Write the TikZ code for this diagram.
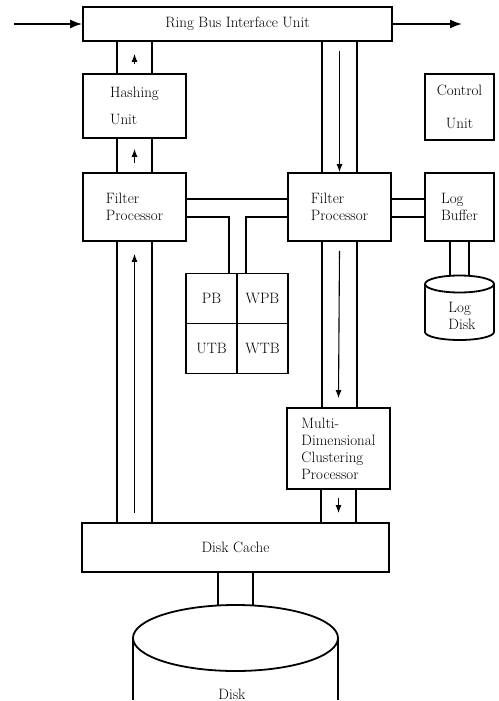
\documentclass[tikz,border=0pt]{standalone}
\usetikzlibrary{positioning,arrows.meta,shapes.geometric}

% two parallel lines of a data path: x from #2, y end from #3
\newcommand{\chan}[3][17.5pt]{%
  \draw ([xshift=-#1]#2) -- ([xshift=-#1]#2 |- #3);
  \draw ([xshift=#1]#2) -- ([xshift=#1]#2 |- #3);
}

\begin{document}
\begin{tikzpicture}[x=1pt,y=1pt,line width=1.8pt,
    every node/.style={font=\fontsize{15}{17}\selectfont},
    unit/.style={draw,inner sep=0pt,align=left},
    cell/.style={draw,inner sep=0pt,outer sep=0pt,minimum width=51pt,minimum height=50pt},
    platter/.style={ellipse,draw,inner sep=0pt,outer sep=0pt},
    flow/.style={-{Latex[length=8pt,width=6pt]},line width=1.1pt},
    bus/.style={-{Latex[length=12pt,width=9pt]}}]
    \useasboundingbox (0,0) rectangle (498,-701);

    \node[unit,minimum width=309pt,minimum height=34pt] (ring) at (237.5,-24) {Ring Bus Interface Unit};
    \node[unit,minimum width=103pt,minimum height=64pt] (hash) at (134.5,-106) {Hashing\\[10pt]Unit};
    \node[unit,minimum width=103pt,minimum height=68pt] (fpl) at (134.5,-207) {Filter\\Processor};
    \node[unit,minimum width=103pt,minimum height=68pt] (fpr) at (339.5,-207) {Filter\\Processor};
    \node[unit,align=center,minimum width=69pt,minimum height=66pt] (ctrl) at (459.5,-107) {Control\\[16pt]Unit};
    \node[unit,minimum width=69pt,minimum height=68pt] (logbuf) at (459.5,-207) {Log\\Buffer};
    \node[unit,minimum width=103pt,minimum height=81pt] (mdc) at (338.5,-448.5) {Multi-\\Dimensional\\Clustering\\Processor};
    \node[unit,minimum width=307pt,minimum height=49pt] (cache) at (235.5,-547.5) {Disk Cache};

    % buffers
    \node[cell] (pb) at (211.5,-298.5) {PB};
    \node[cell,right=0pt of pb] (wpb) {WPB};
    \node[cell,below=0pt of pb] (utb) {UTB};
    \node[cell,below=0pt of wpb] (wtb) {WTB};

    % log disk
    \node[platter,minimum width=69pt,minimum height=17pt] (ldisk) at (459.5,-284) {};
    \draw (ldisk.west) -- ++(0,-48) arc[start angle=180,end angle=360,x radius=34.5pt,y radius=8pt] -- (ldisk.east);
    \node[align=left] (ldisklabel) at (462,-316) {Log\\Disk};

    % disk
    \node[platter,minimum width=205pt,minimum height=66pt] (disk) at (235.5,-638) {};
    \draw (disk.west) -- ++(0,-62);
    \draw (disk.east) -- ++(0,-62);
    \node (disklabel) at (232,-694) {Disk};

    % ring bus
    \coordinate (busin) at (14,-24);
    \coordinate (busout) at (462,-24);
    \draw[bus] (busin) -- (ring.west);
    \draw[bus] (ring.east) -- (busout);

    % data paths
    \chan{hash.north}{ring.south}
    \chan{fpl.north}{hash.south}
    \chan{fpr.north}{ring.south}
    \chan{fpl.south}{cache.north}
    \chan{fpr.south}{mdc.north}
    \chan{mdc.south}{cache.north}
    \chan{disk.north}{cache.south}
    \chan[9.5pt]{ldisk.north}{logbuf.south}

    \draw[flow] ([yshift=9pt]hash.north) -- ([yshift=-12pt]hash.north |- ring.south);
    \draw[flow] ([yshift=9pt]fpl.north) -- ([yshift=-10pt]fpl.north |- hash.south);
    \draw[flow] ([yshift=-9pt]fpr.north |- ring.south) -- (fpr.north);
    \draw[flow] ([yshift=9pt]fpl.south |- cache.north) -- ([yshift=-12pt]fpl.south);
    \draw[flow] ([yshift=-9pt]fpr.south) -- ([yshift=9pt]mdc.north);
    \draw[flow] ([yshift=-8pt]mdc.south) -- ([yshift=9pt]mdc.south |- cache.north);

    % links to buffers and log
    \draw ([yshift=8pt]fpl.east) -- ([yshift=8pt]fpr.west);
    \draw ([yshift=-10pt]fpl.east) -| ([xshift=-8pt]pb.north east);
    \draw ([yshift=-10pt]fpr.west) -| ([xshift=9pt]wpb.north west);
    \draw ([yshift=8pt]fpr.east) -- ([yshift=8pt]logbuf.west);
    \draw ([yshift=-10pt]fpr.east) -- ([yshift=-10pt]logbuf.west);
\end{tikzpicture}
\end{document}
